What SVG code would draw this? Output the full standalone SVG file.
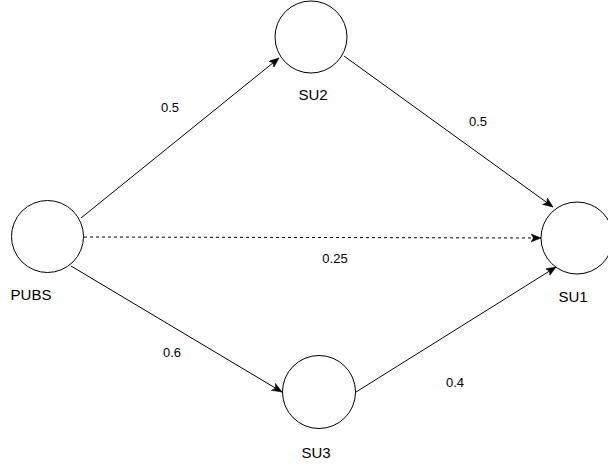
<svg xmlns="http://www.w3.org/2000/svg" width="608" height="465" viewBox="0 0 608 465">
  <style>
    .node { fill: #ffffff; stroke: #000000; stroke-width: 1; }
    .edge { fill: none; stroke: #000000; stroke-width: 1; }
    .dashed { stroke-dasharray: 3 3; }
    .lbl { font-family: "Liberation Sans", Arial, sans-serif; font-size: 15px; fill: #000000; text-anchor: middle; }
    .elbl { font-family: "Liberation Sans", Arial, sans-serif; font-size: 13px; fill: #000000; text-anchor: middle; }
  </style>
  <defs>
    <marker id="arrow" markerUnits="userSpaceOnUse" markerWidth="12" markerHeight="10" refX="10" refY="4" orient="auto">
      <path d="M0,0 L10,4 L0,8 L2.5,4 Z" fill="#000000" stroke="#000000" stroke-width="0.5"/>
    </marker>
  </defs>
  <rect width="608" height="465" fill="#ffffff"/>

  <!-- connectors -->
  <g id="edges">
    <line class="edge" x1="81" y1="218" x2="279" y2="58" marker-end="url(#arrow)"/>
    <line class="edge" x1="344" y1="56" x2="553" y2="207" marker-end="url(#arrow)"/>
    <line class="edge dashed" x1="84" y1="237" x2="541" y2="238" marker-end="url(#arrow)"/>
    <line class="edge" x1="71" y1="266" x2="282" y2="392" marker-end="url(#arrow)"/>
    <line class="edge" x1="356" y1="392" x2="556" y2="267" marker-end="url(#arrow)"/>
    <text class="elbl" x="170" y="112">0.5</text>
    <text class="elbl" x="478" y="126">0.5</text>
    <text class="elbl" x="335" y="263">0.25</text>
    <text class="elbl" x="172" y="357">0.6</text>
    <text class="elbl" x="455" y="387">0.4</text>
  </g>

  <g id="PUBS">
    <circle class="node" cx="47.5" cy="236.5" r="36"/>
    <text class="lbl" x="31" y="300">PUBS</text>
  </g>
  <g id="SU2">
    <circle class="node" cx="311" cy="37" r="36"/>
    <text class="lbl" x="313" y="100">SU2</text>
  </g>
  <g id="SU1">
    <circle class="node" cx="577" cy="238" r="36"/>
    <text class="lbl" x="573" y="302">SU1</text>
  </g>
  <g id="SU3">
    <circle class="node" cx="319" cy="392" r="36.5"/>
    <text class="lbl" x="316" y="458">SU3</text>
  </g>
</svg>
